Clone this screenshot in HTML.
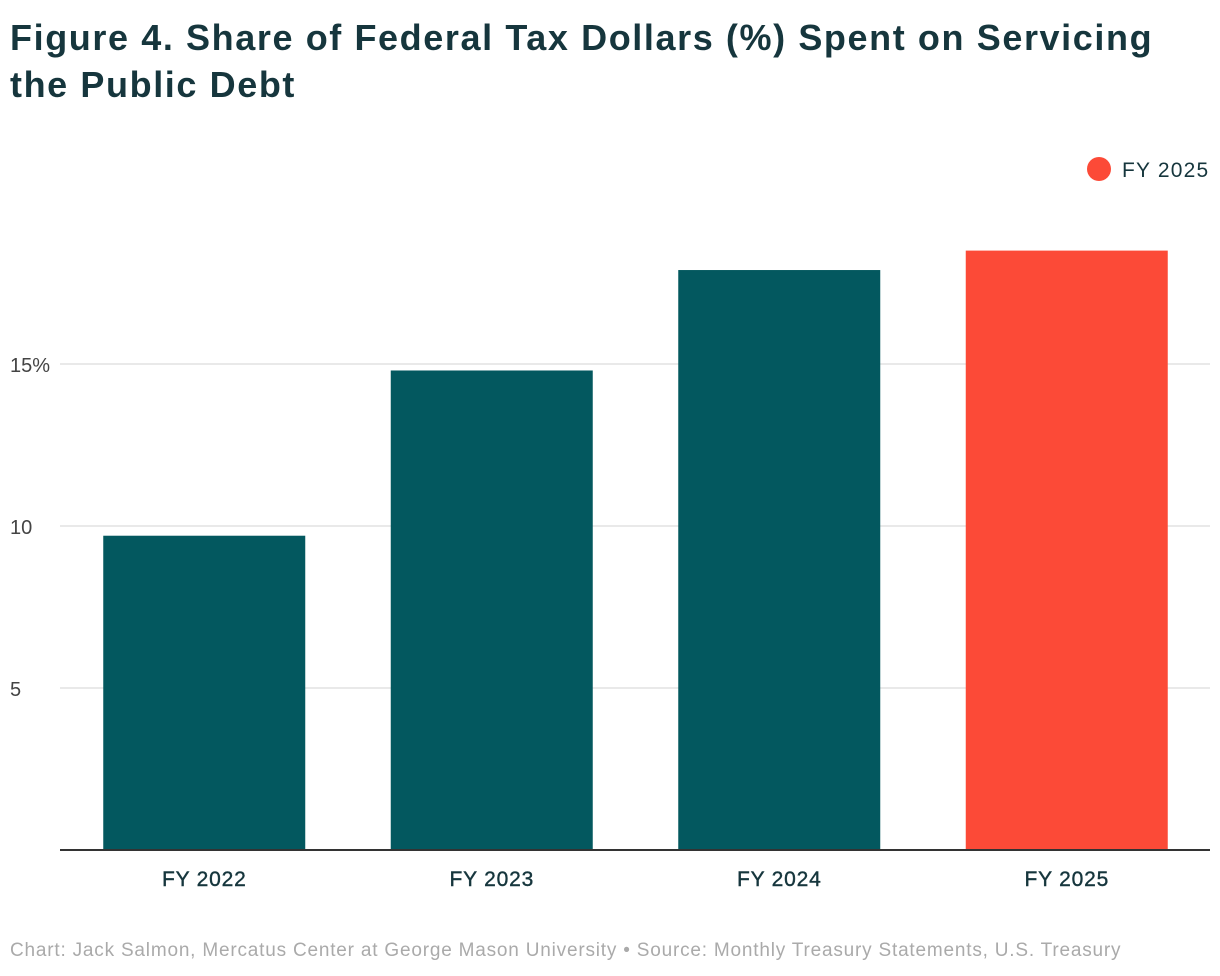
<!DOCTYPE html>
<html><head><meta charset="utf-8"><style>
body{margin:0;width:1220px;height:976px;background:#fff;font-family:"Liberation Sans",sans-serif;overflow:hidden}
#title{position:absolute;left:10px;top:14px;font-size:36px;font-weight:bold;color:#16363d;line-height:47px;letter-spacing:1.6px}
#foot{position:absolute;left:10px;top:940px;font-size:19px;color:#aaa;letter-spacing:0.8px}
svg{position:absolute;left:0;top:0}
</style></head><body>
<div id="title">Figure 4. Share of Federal Tax Dollars (%) Spent on Servicing<br>the Public Debt</div>
<svg id="chart" width="1220" height="976"></svg>
<div id="foot">Chart: Jack Salmon, Mercatus Center at George Mason University • Source: Monthly Treasury Statements, U.S. Treasury</div>
<script>
const categories=["FY 2022","FY 2023","FY 2024","FY 2025"];
const values=[9.7,14.8,17.9,18.5];
const highlight=[false,false,false,true];
const ticks=[5,10,15];
const tickLabels=["5","10","15%"];
const ns="http://www.w3.org/2000/svg";
const svg=document.getElementById('chart');
const x0=60,x1=1210,y0=850,pxPer=32.4;
const band=(x1-x0)/categories.length,bw=202;
function y(v){return y0-v*pxPer;}
function xb(i){return x0+band*i+(band-bw)/2+0.5;}
function mk(t,a){const e=document.createElementNS(ns,t);for(const k in a)e.setAttribute(k,a[k]);svg.appendChild(e);return e;}
ticks.forEach((t,i)=>{
 const l=mk('line',{x1:x0,x2:x1,y1:y(t),y2:y(t),stroke:'#e2e2e2','stroke-width':1.5});
 
 
 const tx=mk('text',{x:10,y:y(t)+8,'font-size':20,fill:'#444'});
 tx.textContent=tickLabels[i];
 
 
});
values.forEach((v,i)=>{
 const r=mk('rect',{x:xb(i),y:y(v),width:bw,height:y0-y(v),fill:highlight[i]?'#fc4a37':'#03585f'});
 
 
 const t=mk('text',{x:xb(i)+bw/2,y:886,'font-size':21,fill:'#16363d','text-anchor':'middle','letter-spacing':'0.8','stroke':'#16363d','stroke-width':'0.4'});
 t.textContent=categories[i];
 
 
});
const ax=mk('line',{x1:x0,x2:x1,y1:y0,y2:y0,stroke:'#333','stroke-width':2});


const c=mk('circle',{cx:1099,cy:169,r:12,fill:'#fc4a37'});


const lt=mk('text',{x:1122,y:177,'font-size':21,fill:'#16363d','letter-spacing':'1.2'});
lt.textContent="FY 2025";


</script>
</body></html>
